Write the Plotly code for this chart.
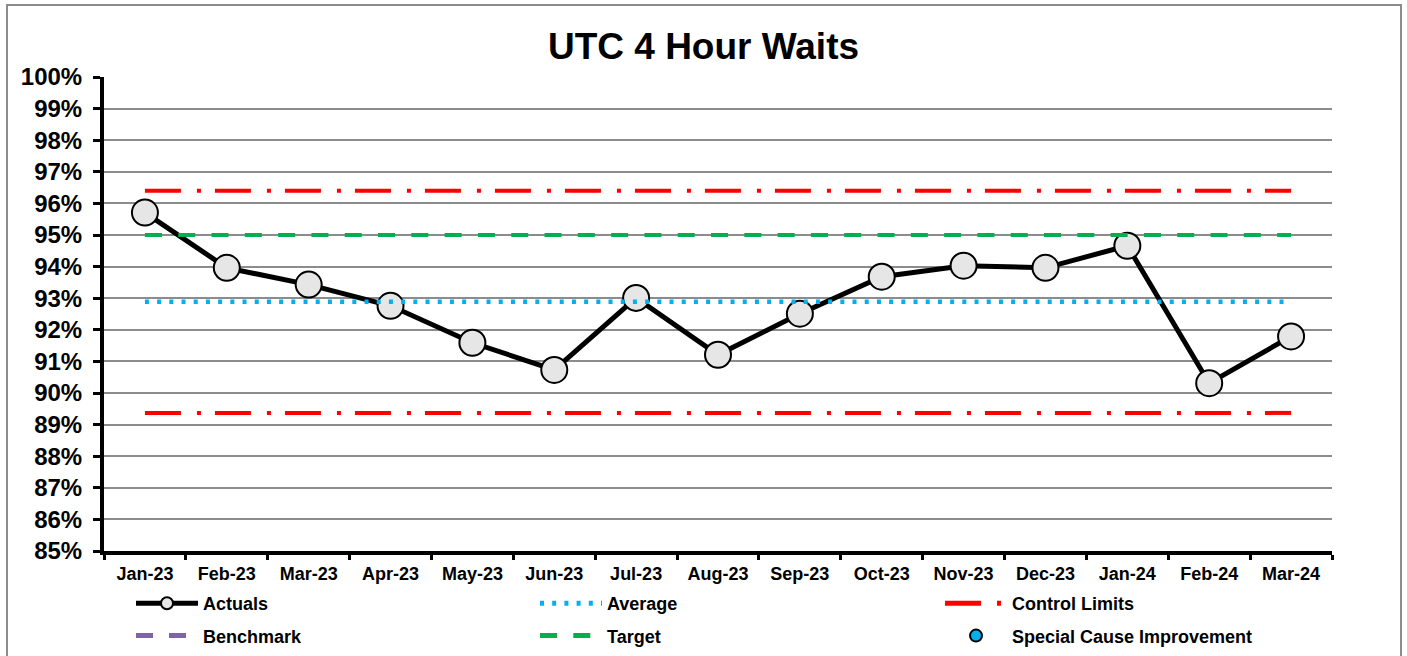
import plotly.graph_objects as go

# Monthly UTC performance: share of attendances seen within 4 hours (%)
months = ["Jan-23", "Feb-23", "Mar-23", "Apr-23", "May-23", "Jun-23", "Jul-23",
          "Aug-23", "Sep-23", "Oct-23", "Nov-23", "Dec-23", "Jan-24", "Feb-24", "Mar-24"]
actuals = [95.71, 93.96, 93.43, 92.76, 91.59, 90.73, 93.01,
           91.21, 92.51, 93.68, 94.03, 93.96, 94.66, 90.31, 91.79]

# SPC reference levels (%)
average_level = 92.89
upper_control_limit = 96.40
lower_control_limit = 89.37
target_level = 95.0

# Series with no points in this period (kept for the legend)
benchmark = [None] * len(months)
special_cause_improvement = [None] * len(months)

FONT = "Liberation Sans, Arial, sans-serif"
n = len(months)

fig = go.Figure()

fig.add_trace(go.Scatter(
    x=months, y=actuals, name="Actuals", mode="lines+markers",
    line=dict(color="black", width=5),
    marker=dict(size=26, color="#e6e6e6", line=dict(color="black", width=2)),
    legend="legend", legendrank=1, legendgroup="a",
))
fig.add_trace(go.Scatter(
    x=months, y=[average_level] * n, name="Average", mode="lines",
    line=dict(color="#00b0f0", width=4.5, dash="4px,8.2px"),
    legend="legend2", legendrank=1, legendgroup="b",
))
fig.add_trace(go.Scatter(
    x=months, y=[target_level] * n, name="Target", mode="lines",
    line=dict(color="#00b050", width=4, dash="17px,16.3px"),
    legend="legend2", legendrank=2, legendgroup="c",
))
fig.add_trace(go.Scatter(
    x=months, y=[upper_control_limit] * n, name="Control Limits", mode="lines",
    line=dict(color="#ff0000", width=4, dash="36px,16px,4px,14px"),
    legend="legend3", legendrank=1, legendgroup="d",
))
fig.add_trace(go.Scatter(
    x=months, y=[lower_control_limit] * n, name="Control Limits", mode="lines",
    line=dict(color="#ff0000", width=4, dash="36px,16px,4px,14px"),
    legend="legend3", legendgroup="d", showlegend=False,
))
fig.add_trace(go.Scatter(
    x=months, y=benchmark, name="Benchmark", mode="lines",
    line=dict(color="#8064a2", width=4, dash="17px,16px"),
    legend="legend", legendrank=2, legendgroup="e",
))
fig.add_trace(go.Scatter(
    x=months, y=special_cause_improvement,
    name="Special Cause Improvement", mode="markers",
    marker=dict(size=11, color="#00b0f0", line=dict(color="black", width=2)),
    legend="legend3", legendrank=2, legendgroup="f",
))

legend_common = dict(
    xref="container", yref="container", xanchor="left", yanchor="top",
    orientation="v", traceorder="grouped", tracegroupgap=6,
    itemwidth=62, itemsizing="constant", bgcolor="rgba(0,0,0,0)",
    font=dict(family=FONT, size=18, color="black", weight="bold"),
)

fig.update_layout(
    width=1407, height=656,
    margin=dict(l=104, r=75, t=77, b=105, autoexpand=False),
    paper_bgcolor="white", plot_bgcolor="white",
    title=dict(text="UTC 4 Hour Waits", xref="container", x=0.5, xanchor="center",
               yref="container", y=1 - 46 / 656, yanchor="middle",
               font=dict(family=FONT, size=37, color="black", weight="bold")),
    legend=dict(x=131 / 1407, y=1 - 585 / 656, **legend_common),
    legend2=dict(x=535 / 1407, y=1 - 585 / 656, **legend_common),
    legend3=dict(x=940 / 1407, y=1 - 585 / 656, **legend_common),
    xaxis=dict(
        type="category", range=[-0.5, n - 0.5], showgrid=False,
        showline=True, linecolor="black", linewidth=4,
        ticks="outside", tickson="boundaries", ticklen=5, tickwidth=3, tickcolor="black",
        tickangle=0, ticklabelstandoff=3,
        tickfont=dict(family=FONT, size=18, color="black", weight="bold"),
    ),
    yaxis=dict(
        range=[85, 100], dtick=1, ticksuffix="%",
        showgrid=True, gridcolor="#8c8c8c", gridwidth=2,
        showline=True, linecolor="black", linewidth=4,
        ticks="outside", ticklen=7, tickwidth=3, tickcolor="black",
        ticklabelstandoff=6,
        tickfont=dict(family=FONT, size=24, color="black", weight="bold"),
        zeroline=False,
    ),
    shapes=[dict(
        type="rect", xref="paper", yref="paper",
        x0=(7 - 104) / 1228, x1=(1401 - 104) / 1228,
        y0=(551 - 665) / 474, y1=(551 - 5) / 474,
        line=dict(color="#8c8c8c", width=2), fillcolor="rgba(0,0,0,0)", layer="below",
    )],
)

fig.write_html("out.html")
